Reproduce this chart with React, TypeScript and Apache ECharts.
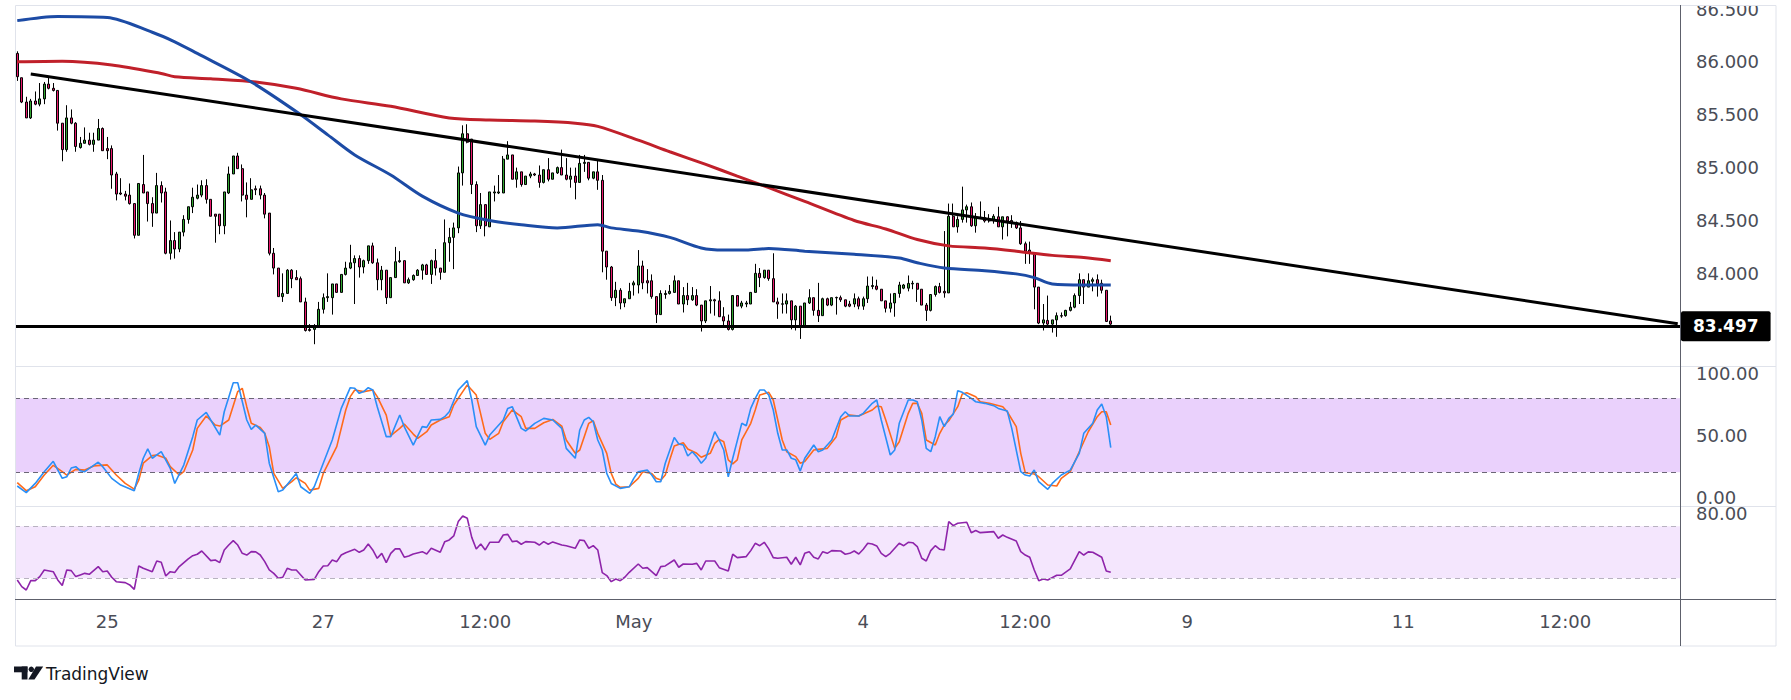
import React, { useEffect, useRef } from 'react';
import * as echarts from 'echarts';

// ---- Data (hourly candles, index 0 = first visible bar) ----
// [open, high, low, close]
const CANDLES_OHLC: [number, number, number, number][] = [
  [86.08, 86.10, 85.82, 85.86], [85.85, 85.85, 85.61, 85.62], [85.62, 85.67, 85.47, 85.47], [85.47, 85.65, 85.46, 85.63],
  [85.63, 85.72, 85.59, 85.60], [85.60, 85.80, 85.58, 85.65], [85.65, 85.81, 85.60, 85.79], [85.79, 85.85, 85.74, 85.75],
  [85.75, 85.80, 85.72, 85.73], [85.73, 85.73, 85.35, 85.42], [85.42, 85.42, 85.06, 85.17], [85.17, 85.59, 85.15, 85.47],
  [85.47, 85.55, 85.41, 85.42], [85.42, 85.43, 85.15, 85.20], [85.19, 85.29, 85.18, 85.23], [85.23, 85.38, 85.23, 85.26],
  [85.26, 85.33, 85.21, 85.22], [85.22, 85.33, 85.15, 85.26], [85.26, 85.46, 85.26, 85.37], [85.37, 85.38, 85.16, 85.16],
  [85.18, 85.29, 85.08, 85.16], [85.18, 85.21, 84.80, 84.93], [84.94, 84.96, 84.69, 84.75], [84.76, 84.90, 84.74, 84.75],
  [84.75, 84.78, 84.69, 84.73], [84.74, 84.85, 84.65, 84.66], [84.66, 84.66, 84.33, 84.36], [84.36, 84.85, 84.36, 84.85],
  [84.84, 85.12, 84.76, 84.76], [84.77, 84.77, 84.49, 84.66], [84.66, 84.72, 84.44, 84.57], [84.57, 84.95, 84.57, 84.83],
  [84.83, 84.87, 84.67, 84.76], [84.77, 84.81, 84.18, 84.19], [84.19, 84.50, 84.13, 84.31], [84.31, 84.39, 84.14, 84.23],
  [84.23, 84.39, 84.20, 84.39], [84.39, 84.55, 84.35, 84.51], [84.51, 84.63, 84.47, 84.63], [84.63, 84.81, 84.57, 84.72],
  [84.71, 84.84, 84.70, 84.74], [84.74, 84.88, 84.72, 84.83], [84.83, 84.89, 84.66, 84.70], [84.70, 84.70, 84.54, 84.54],
  [84.56, 84.56, 84.29, 84.54], [84.56, 84.56, 84.37, 84.45], [84.45, 84.77, 84.37, 84.77], [84.76, 85.01, 84.75, 84.94],
  [84.94, 85.11, 84.94, 85.11], [85.11, 85.14, 84.99, 84.99], [84.99, 85.03, 84.68, 84.74], [84.74, 84.86, 84.53, 84.70],
  [84.70, 84.90, 84.70, 84.79], [84.80, 84.83, 84.74, 84.79], [84.80, 84.83, 84.70, 84.74], [84.74, 84.76, 84.52, 84.56],
  [84.57, 84.57, 84.17, 84.19], [84.19, 84.24, 83.99, 84.05], [84.05, 84.05, 83.78, 83.78], [83.78, 84.00, 83.73, 83.81],
  [83.81, 84.04, 83.81, 84.03], [84.03, 84.04, 83.86, 83.95], [83.96, 84.03, 83.94, 83.94], [83.95, 83.97, 83.73, 83.73],
  [83.73, 83.77, 83.45, 83.46], [83.47, 83.52, 83.45, 83.46], [83.47, 83.52, 83.33, 83.49], [83.49, 83.73, 83.49, 83.66],
  [83.66, 83.81, 83.62, 83.77], [83.77, 84.00, 83.73, 83.78], [83.77, 83.90, 83.61, 83.90], [83.90, 83.90, 83.82, 83.82],
  [83.82, 83.99, 83.82, 83.99], [83.99, 84.11, 83.98, 84.05], [84.05, 84.27, 84.04, 84.10], [84.10, 84.17, 83.71, 84.14],
  [84.14, 84.17, 83.96, 84.06], [84.06, 84.13, 84.00, 84.12], [84.12, 84.26, 84.09, 84.26], [84.26, 84.29, 84.09, 84.10],
  [84.10, 84.14, 83.84, 83.94], [83.94, 84.07, 83.84, 84.03], [84.03, 84.03, 83.71, 83.77], [83.77, 83.96, 83.77, 83.96],
  [83.96, 84.25, 83.96, 84.11], [84.11, 84.21, 84.10, 84.12], [84.12, 84.12, 83.91, 83.91], [83.91, 83.96, 83.90, 83.94],
  [83.94, 83.99, 83.93, 83.98], [83.98, 84.04, 83.98, 84.03], [84.03, 84.09, 83.94, 84.08], [84.08, 84.09, 83.99, 83.99],
  [83.99, 84.13, 83.90, 84.12], [84.12, 84.23, 83.98, 84.05], [84.05, 84.05, 83.94, 84.01], [84.01, 84.51, 84.01, 84.29],
  [84.29, 84.43, 84.11, 84.34], [84.34, 84.48, 84.04, 84.43], [84.43, 85.01, 84.38, 84.95], [84.95, 85.40, 84.83, 85.32],
  [85.32, 85.41, 85.23, 85.24], [85.27, 85.27, 84.75, 84.84], [84.84, 84.87, 84.39, 84.45], [84.45, 84.76, 84.42, 84.65],
  [84.65, 84.65, 84.35, 84.45], [84.44, 84.77, 84.44, 84.77], [84.76, 84.83, 84.68, 84.77], [84.76, 84.93, 84.75, 84.77],
  [84.76, 85.11, 84.76, 85.08], [85.08, 85.25, 85.08, 85.12], [85.12, 85.12, 84.89, 84.89], [84.89, 85.00, 84.81, 84.96],
  [84.96, 84.96, 84.82, 84.84], [84.84, 84.92, 84.84, 84.92], [84.92, 84.96, 84.90, 84.94], [84.94, 84.95, 84.92, 84.93],
  [84.93, 85.02, 84.81, 84.86], [84.86, 84.98, 84.85, 84.98], [84.98, 85.09, 84.87, 84.89], [84.89, 84.95, 84.89, 84.95],
  [84.95, 85.01, 84.94, 85.00], [85.00, 85.17, 84.93, 84.93], [84.93, 85.09, 84.88, 84.89], [84.89, 85.00, 84.81, 84.92],
  [84.92, 85.00, 84.70, 84.86], [84.86, 85.12, 84.86, 85.04], [85.04, 85.12, 84.96, 85.05], [85.05, 85.05, 84.88, 84.90],
  [84.90, 84.96, 84.89, 84.96], [84.96, 85.07, 84.79, 84.88], [84.88, 84.93, 84.01, 84.21], [84.21, 84.21, 83.94, 84.06],
  [84.06, 84.07, 83.74, 83.77], [83.77, 83.92, 83.69, 83.84], [83.84, 83.86, 83.66, 83.72], [83.72, 83.76, 83.68, 83.76],
  [83.76, 83.91, 83.76, 83.83], [83.89, 83.93, 83.79, 83.91], [83.89, 84.22, 83.81, 84.07], [84.07, 84.12, 83.85, 83.91],
  [83.93, 84.04, 83.81, 83.91], [83.93, 83.99, 83.76, 83.78], [83.78, 83.78, 83.53, 83.61], [83.61, 83.84, 83.61, 83.81],
  [83.80, 83.84, 83.76, 83.81], [83.81, 83.89, 83.80, 83.83], [83.82, 83.98, 83.82, 83.93], [83.93, 83.93, 83.71, 83.71],
  [83.71, 83.87, 83.63, 83.79], [83.79, 83.91, 83.70, 83.75], [83.75, 83.87, 83.74, 83.79], [83.79, 83.85, 83.69, 83.70],
  [83.70, 83.70, 83.45, 83.55], [83.55, 83.74, 83.53, 83.74], [83.74, 83.88, 83.62, 83.75], [83.75, 83.76, 83.60, 83.74],
  [83.74, 83.83, 83.59, 83.59], [83.59, 83.68, 83.51, 83.55], [83.55, 83.61, 83.46, 83.47], [83.47, 83.79, 83.46, 83.79],
  [83.79, 83.79, 83.69, 83.69], [83.69, 83.74, 83.67, 83.72], [83.71, 83.74, 83.68, 83.72], [83.71, 83.82, 83.71, 83.82],
  [83.82, 84.09, 83.82, 84.00], [84.00, 84.05, 83.87, 83.96], [83.96, 84.03, 83.95, 84.03], [84.03, 84.03, 83.93, 83.95],
  [83.95, 84.19, 83.73, 83.73], [83.73, 83.77, 83.57, 83.71], [83.708, 83.81, 83.62, 83.712], [83.71, 83.81, 83.62, 83.74],
  [83.74, 83.74, 83.47, 83.56], [83.56, 83.70, 83.46, 83.69], [83.69, 83.69, 83.38, 83.50], [83.50, 83.72, 83.49, 83.72],
  [83.72, 83.85, 83.71, 83.77], [83.77, 83.77, 83.60, 83.65], [83.65, 83.91, 83.54, 83.60], [83.60, 83.77, 83.60, 83.76],
  [83.76, 83.77, 83.69, 83.70], [83.70, 83.77, 83.69, 83.77], [83.768, 83.78, 83.61, 83.772], [83.77, 83.79, 83.73, 83.75],
  [83.75, 83.75, 83.68, 83.69], [83.71, 83.74, 83.68, 83.69], [83.71, 83.81, 83.68, 83.76], [83.76, 83.78, 83.66, 83.69],
  [83.69, 83.78, 83.655, 83.76], [83.76, 83.97, 83.72, 83.88], [83.875, 83.97, 83.85, 83.885], [83.88, 83.94, 83.84, 83.85],
  [83.85, 83.85, 83.74, 83.74], [83.74, 83.74, 83.63, 83.67], [83.67, 83.81, 83.63, 83.72], [83.72, 83.81, 83.59, 83.81],
  [83.81, 83.92, 83.77, 83.89], [83.86, 83.90, 83.85, 83.89], [83.86, 83.98, 83.83, 83.905], [83.90, 83.93, 83.85, 83.906],
  [83.906, 83.906, 83.73, 83.85], [83.85, 83.85, 83.70, 83.70], [83.70, 83.72, 83.55, 83.65], [83.65, 83.80, 83.64, 83.80],
  [83.80, 83.885, 83.78, 83.875], [83.875, 83.91, 83.81, 83.82], [83.83, 84.40, 83.77, 83.815], [83.815, 84.66, 83.815, 84.54],
  [84.54, 84.66, 84.44, 84.44], [84.44, 84.54, 84.385, 84.51], [84.51, 84.82, 84.48, 84.60], [84.60, 84.65, 84.48, 84.63],
  [84.63, 84.67, 84.44, 84.45], [84.45, 84.57, 84.385, 84.53], [84.53, 84.68, 84.52, 84.527], [84.527, 84.59, 84.48, 84.495],
  [84.51, 84.56, 84.48, 84.495], [84.51, 84.56, 84.47, 84.54], [84.535, 84.63, 84.44, 84.44], [84.44, 84.535, 84.32, 84.535],
  [84.535, 84.54, 84.35, 84.495], [84.50, 84.55, 84.43, 84.48], [84.48, 84.49, 84.42, 84.43], [84.43, 84.495, 84.27, 84.28],
  [84.28, 84.30, 84.09, 84.21], [84.22, 84.30, 84.09, 84.19], [84.19, 84.19, 83.66, 83.87], [83.87, 83.87, 83.52, 83.53],
  [83.53, 83.71, 83.46, 83.56], [83.555, 83.79, 83.51, 83.52], [83.52, 83.56, 83.44, 83.56], [83.56, 83.63, 83.40, 83.60],
  [83.596, 83.63, 83.58, 83.60], [83.60, 83.655, 83.59, 83.65], [83.65, 83.73, 83.64, 83.68], [83.68, 83.81, 83.67, 83.79],
  [83.79, 84.00, 83.71, 83.94], [83.94, 83.94, 83.71, 83.87], [83.87, 84.00, 83.87, 83.93], [83.925, 83.96, 83.83, 83.94],
  [83.94, 83.99, 83.78, 83.90], [83.906, 83.94, 83.81, 83.84], [83.84, 83.84, 83.54, 83.545], [83.55, 83.60, 83.51, 83.52],
];

// Moving averages, sampled [barIndex, price]
const MA_BLUE: [number, number][] = [
  [0, 86.39], [9, 86.43], [20, 86.42], [30, 86.28], [35, 86.19], [40, 86.08], [52, 85.81], [63, 85.50], [69, 85.31],
  [75, 85.12], [83, 84.93], [90, 84.73], [98, 84.57], [105, 84.50], [112, 84.46], [120, 84.43], [129, 84.46], [132, 84.43],
  [138, 84.40], [145, 84.34], [152, 84.24], [157, 84.22], [162, 84.22], [167, 84.235], [175, 84.21], [186, 84.18],
  [196, 84.145], [200, 84.10], [206, 84.05], [215, 84.025], [222, 83.995], [226, 83.96], [230, 83.90], [237, 83.89], [243, 83.89],
];
const MA_RED: [number, number][] = [
  [0, 86.00], [10, 86.005], [21, 85.97], [32, 85.89], [35, 85.86], [43, 85.84], [53, 85.81], [62, 85.75], [72, 85.65],
  [83, 85.58], [96, 85.47], [105, 85.45], [115, 85.44], [124, 85.42], [129, 85.39], [138, 85.26], [145, 85.15], [153, 85.03],
  [160, 84.92], [167, 84.81], [175, 84.68], [186, 84.50], [193, 84.42], [200, 84.32], [207, 84.26], [215, 84.24],
  [222, 84.21], [230, 84.17], [237, 84.15], [243, 84.12],
];

// Drawn trend lines
const TRENDLINE: [number, number][] = [[3, 85.886], [369, 83.523]];
const SUPPORT_LEVEL = 83.497;

// Stochastic %K / %D, sampled [barIndex, value]
const STOCH_K: [number, number][] = [
  [0, 8.9], [2, 3.5], [4, 11.0], [6, 20.5], [8, 28.9], [10, 15.1], [11, 16.4], [12, 23.5], [13, 24.6], [14, 21.3], [15, 20.5],
  [16, 23.2], [18, 28.2], [19, 24.6], [21, 15.1], [23, 9.7], [26, 5.1], [27, 19.1], [28, 31.4], [29, 39.0], [30, 31.4],
  [32, 36.8], [34, 23.2], [35, 11.0], [37, 25.9], [39, 48.9], [40, 62.4], [42, 68.6], [43, 62.4], [45, 50.2], [46, 69.1],
  [48, 92.6], [49, 92.6], [51, 62.4], [52, 54.8], [53, 58.3], [55, 51.6], [56, 27.4], [58, 4.3], [59, 5.6], [62, 19.1],
  [63, 8.3], [65, 2.9], [66, 8.3], [68, 27.4], [70, 46.2], [72, 71.8], [74, 88.6], [75, 88.1], [76, 84.0], [77, 85.4],
  [78, 88.6], [79, 86.7], [80, 73.2], [82, 48.9], [83, 48.9], [85, 66.4], [86, 57.0], [88, 42.1], [90, 57.0], [91, 56.4],
  [92, 62.4], [94, 62.9], [95, 65.1], [96, 69.1], [98, 86.7], [100, 94.3], [101, 78.6], [102, 57.0], [104, 42.1], [105, 50.2],
  [108, 62.4], [109, 71.8], [110, 73.2], [112, 55.6], [113, 53.5], [115, 59.7], [117, 63.7], [119, 62.4], [121, 55.6],
  [122, 39.4], [124, 31.4], [125, 54.3], [126, 62.4], [127, 64.5], [128, 61.0], [129, 46.2], [130, 38.1], [131, 19.1],
  [132, 11.0], [134, 7.0], [136, 8.3], [137, 15.1], [138, 20.5], [140, 21.8], [141, 17.8], [142, 12.4], [143, 12.4],
  [144, 27.4], [146, 48.3], [147, 42.9], [148, 42.1], [149, 33.2], [150, 36.7], [151, 32.7], [152, 27.4], [153, 31.4],
  [155, 52.9], [156, 46.2], [157, 38.1], [158, 16.4], [159, 31.4], [161, 59.7], [162, 57.8], [163, 71.8], [164, 79.9],
  [165, 86.7], [166, 86.7], [167, 82.6], [168, 70.5], [169, 51.6], [170, 38.1], [171, 38.1], [172, 31.4], [173, 30.1],
  [174, 21.0], [175, 31.4], [177, 42.1], [178, 36.7], [179, 38.1], [181, 46.2], [183, 65.1], [184, 69.1], [185, 65.6],
  [187, 65.6], [188, 67.8], [190, 75.9], [191, 78.6], [192, 62.4], [194, 34.0], [195, 38.1], [196, 59.7], [198, 78.6],
  [199, 78.6], [200, 77.2], [201, 62.4], [202, 39.4], [203, 36.7], [204, 48.9], [205, 65.1], [206, 57.0], [207, 63.7],
  [208, 67.2], [209, 86.2], [210, 84.8], [212, 79.9], [213, 77.2], [215, 75.9], [217, 74.0], [218, 71.8], [220, 69.7],
  [221, 55.6], [223, 20.5], [224, 17.8], [225, 17.0], [226, 21.8], [227, 12.4], [229, 6.2], [230, 11.0], [232, 17.8],
  [234, 21.8], [236, 35.4], [237, 51.6], [239, 59.7], [240, 70.5], [241, 75.4], [242, 65.1], [243, 40.0],
];
const STOCH_D: [number, number][] = [
  [0, 11.6], [2, 5.1], [4, 8.3], [6, 17.8], [8, 25.7], [10, 20.5], [11, 17.8], [13, 22.4], [15, 21.8], [17, 25.2], [20, 26.0],
  [22, 17.8], [24, 11.0], [26, 6.4], [27, 13.7], [28, 27.4], [30, 33.5], [31, 34.0], [33, 31.4], [34, 24.6], [36, 17.8],
  [37, 20.5], [39, 38.1], [40, 55.6], [42, 65.6], [44, 58.3], [45, 57.5], [47, 62.4], [49, 85.4], [50, 88.1], [51, 73.2],
  [52, 59.7], [54, 56.4], [55, 51.6], [56, 40.8], [57, 19.1], [59, 7.0], [61, 12.4], [62, 15.6], [64, 11.0], [65, 5.6],
  [67, 7.0], [68, 19.1], [71, 40.8], [73, 70.5], [74, 81.3], [75, 86.7], [77, 85.4], [79, 86.7], [80, 81.3], [82, 66.4],
  [83, 49.7], [85, 55.6], [86, 59.1], [88, 51.0], [89, 47.5], [91, 52.9], [92, 58.3], [94, 62.4], [96, 65.1], [97, 74.5],
  [99, 85.4], [100, 90.8], [102, 82.6], [104, 51.6], [105, 46.7], [107, 51.6], [108, 61.0], [110, 70.5], [112, 65.1],
  [113, 55.6], [115, 55.6], [117, 60.2], [119, 62.9], [121, 57.5], [122, 46.2], [124, 35.4], [125, 38.1], [126, 48.9],
  [127, 59.7], [128, 61.8], [129, 51.6], [131, 35.4], [132, 19.1], [133, 10.5], [134, 7.8], [136, 8.3], [138, 15.1],
  [139, 20.5], [141, 19.1], [142, 15.1], [143, 13.7], [144, 17.8], [145, 30.1], [146, 41.3], [148, 44.0], [149, 38.9],
  [151, 35.4], [152, 32.2], [154, 35.4], [155, 43.5], [156, 46.7], [157, 44.8], [158, 30.1], [159, 26.8], [160, 30.1],
  [161, 46.2], [163, 59.7], [164, 70.5], [165, 82.6], [167, 84.8], [168, 78.6], [169, 62.4], [170, 46.2], [171, 36.7],
  [173, 32.7], [174, 27.4], [175, 28.7], [177, 38.1], [178, 38.6], [180, 39.4], [182, 48.9], [183, 62.4], [185, 66.4],
  [187, 65.6], [190, 70.5], [191, 73.7], [192, 73.2], [193, 62.4], [195, 39.4], [196, 44.8], [198, 67.8], [199, 75.9],
  [200, 75.9], [201, 67.8], [202, 46.2], [204, 42.1], [205, 51.6], [206, 58.3], [207, 61.8], [209, 73.2], [210, 83.4],
  [211, 84.5], [213, 81.3], [214, 77.2], [216, 75.9], [219, 73.2], [220, 69.1], [222, 57.0], [223, 35.4], [224, 19.7],
  [226, 18.6], [227, 16.4], [229, 9.7], [231, 8.9], [232, 15.1], [234, 20.5], [236, 36.7], [238, 52.9], [240, 65.1],
  [241, 69.1], [242, 69.1], [243, 58.3],
];
const STOCH_BAND: [number, number] = [20, 80];

// RSI, sampled [barIndex, value]
const RSI: [number, number][] = [
  [0, 28.7], [1, 23.6], [2, 21.0], [3, 28.2], [4, 28.2], [5, 31.3], [6, 36.4], [8, 35.1], [9, 28.7], [10, 24.4], [11, 36.4],
  [12, 35.9], [13, 31.3], [14, 32.6], [15, 33.8], [16, 33.1], [18, 39.0], [19, 35.1], [20, 35.6], [21, 30.8], [22, 27.4],
  [24, 26.7], [25, 24.9], [26, 21.5], [27, 39.5], [28, 37.7], [30, 35.1], [31, 43.3], [32, 42.3], [33, 31.8], [34, 35.1],
  [35, 34.4], [36, 39.0], [38, 44.9], [39, 47.4], [40, 48.5], [41, 51.0], [43, 43.6], [44, 44.1], [45, 42.1], [46, 51.8],
  [47, 55.6], [48, 59.0], [49, 55.6], [50, 49.2], [51, 47.9], [52, 50.5], [53, 50.3], [54, 47.9], [55, 42.8], [56, 36.4],
  [57, 33.8], [58, 30.0], [59, 30.8], [60, 37.7], [61, 36.4], [62, 36.4], [63, 32.6], [64, 28.7], [66, 29.2], [67, 35.1],
  [68, 39.5], [69, 39.7], [70, 44.1], [71, 42.8], [72, 47.9], [73, 49.7], [75, 52.3], [76, 50.0], [77, 51.8], [78, 56.4],
  [79, 51.8], [80, 45.4], [81, 49.2], [82, 42.1], [83, 49.2], [84, 52.6], [85, 52.6], [86, 46.2], [87, 47.2], [88, 48.7],
  [90, 50.5], [91, 48.7], [92, 53.1], [94, 50.0], [95, 58.2], [96, 59.5], [97, 62.6], [98, 73.6], [99, 77.9], [100, 76.2],
  [101, 61.5], [102, 52.6], [103, 56.4], [104, 51.8], [105, 57.7], [107, 57.7], [108, 63.3], [109, 63.8], [110, 58.2],
  [111, 58.7], [112, 56.2], [113, 58.2], [115, 57.7], [116, 55.6], [117, 58.2], [118, 56.2], [119, 58.0], [121, 55.6],
  [122, 55.1], [124, 53.1], [125, 59.5], [126, 59.0], [127, 53.1], [128, 55.1], [129, 51.8], [130, 34.4], [131, 32.1],
  [132, 27.4], [133, 29.5], [134, 28.2], [135, 30.8], [136, 34.6], [138, 41.0], [139, 37.7], [140, 38.2], [142, 32.1],
  [143, 39.0], [144, 39.5], [146, 44.1], [147, 38.5], [148, 41.0], [150, 40.8], [151, 41.5], [152, 36.4], [153, 43.3],
  [155, 43.3], [156, 38.2], [158, 35.6], [159, 48.5], [160, 45.9], [162, 46.7], [163, 51.3], [164, 56.9], [165, 55.1],
  [166, 57.7], [167, 52.6], [168, 45.9], [169, 45.4], [171, 46.2], [172, 40.8], [173, 46.2], [174, 40.3], [175, 49.2],
  [176, 50.5], [177, 46.2], [178, 44.9], [179, 50.5], [180, 49.2], [181, 51.3], [183, 51.0], [184, 48.5], [185, 49.2],
  [186, 51.0], [187, 48.7], [188, 52.3], [189, 56.9], [190, 56.4], [191, 54.9], [192, 49.2], [193, 46.7], [194, 49.2],
  [196, 56.9], [197, 55.1], [198, 57.7], [199, 57.4], [200, 54.4], [201, 45.4], [202, 43.3], [203, 51.3], [204, 55.1],
  [205, 52.3], [206, 51.8], [207, 73.6], [208, 70.5], [209, 72.3], [211, 73.1], [212, 65.1], [213, 66.7], [214, 65.1],
  [217, 65.9], [218, 60.8], [219, 63.3], [220, 61.5], [222, 58.7], [223, 50.5], [224, 47.9], [225, 46.2], [226, 36.4],
  [227, 28.2], [228, 29.5], [229, 28.7], [231, 32.3], [232, 32.3], [234, 37.2], [236, 50.5], [237, 47.9], [238, 50.3],
  [239, 50.0], [241, 46.2], [242, 35.6], [243, 34.6],
];
const RSI_BAND: [number, number] = [30, 70];

// Time axis: total bar slots (incl. future space) and labelled slots
const SLOT_COUNT = 370;
const TIME_TICK_IDX = [20, 68, 104, 137, 188, 224, 260, 308, 344];
const TIME_TICK_TEXT = ['25', '27', '12:00', 'May', '4', '12:00', '9', '11', '12:00'];

// Axis ranges
const PRICE_MIN = 83;
const PRICE_MAX = 86.5;
const PRICE_STEP = 0.5;

const FONT = '"DejaVu Sans", "Noto Sans", sans-serif';
const LABEL_COLOR = '#4a4d57';
const UP_COLOR = '#31a531';
const DOWN_COLOR = '#e8196c';

function buildOption(): any {
  const categories = Array.from({ length: SLOT_COUNT }, (_, i) => String(i));
  const tickMap = new Map<number, string>(TIME_TICK_IDX.map((i, k) => [i, TIME_TICK_TEXT[k]]));
  const gridLeft = 15;
  const gridWidth = 1665;

  const xAxis = [0, 1, 2].map((g) => ({
    type: 'category',
    gridIndex: g,
    data: categories,
    boundaryGap: true,
    axisLine: { show: false },
    axisTick: { show: false },
    splitLine: { show: false },
    axisPointer: { show: false },
    axisLabel:
      g === 2
        ? {
            show: true,
            interval: (index: number) => tickMap.has(index),
            formatter: (value: string) => tickMap.get(Number(value)) ?? '',
            margin: 21,
            fontSize: 18,
            fontFamily: FONT,
            color: LABEL_COLOR,
          }
        : { show: false },
  }));

  const baseY = {
    type: 'value',
    position: 'right',
    scale: true,
    axisLine: { show: false },
    axisTick: { show: false },
    splitLine: { show: false },
  };

  const yAxis = [
    {
      ...baseY,
      gridIndex: 0,
      min: PRICE_MIN,
      max: PRICE_MAX,
      interval: PRICE_STEP,
      axisLabel: {
        margin: 16,
        fontSize: 18,
        fontFamily: FONT,
        color: LABEL_COLOR,
        formatter: (v: number) => (v >= 83.9 ? v.toFixed(3) : ''),
      },
    },
    {
      ...baseY,
      gridIndex: 1,
      min: 0,
      max: 100,
      interval: 50,
      axisLabel: { margin: 16, fontSize: 18, fontFamily: FONT, color: LABEL_COLOR, formatter: (v: number) => v.toFixed(2) },
    },
    {
      ...baseY,
      gridIndex: 2,
      min: 20,
      max: 80,
      interval: 60,
      axisLabel: {
        margin: 16,
        fontSize: 18,
        fontFamily: FONT,
        color: LABEL_COLOR,
        formatter: (v: number) => (v === 80 ? '80.00' : ''),
      },
    },
  ];

  const series: any[] = [
    {
      type: 'candlestick',
      name: 'price',
      xAxisIndex: 0,
      yAxisIndex: 0,
      barWidth: 2.3,
      data: CANDLES_OHLC.map(([o, h, l, c]) => [o, c, l, h]),
      itemStyle: {
        color: UP_COLOR,
        color0: DOWN_COLOR,
        borderColor: '#000000',
        borderColor0: '#000000',
        borderColorDoji: '#000000',
        borderWidth: 1,
      },
      markLine: {
        silent: true,
        symbol: ['none', 'none'],
        lineStyle: { color: '#000000', width: 3, type: 'solid' },
        label: {
          show: true,
          position: 'end',
          distance: 1,
          formatter: SUPPORT_LEVEL.toFixed(3),
          backgroundColor: '#000000',
          color: '#ffffff',
          fontFamily: FONT,
          fontSize: 17,
          fontWeight: 'bold',
          padding: [7, 12, 6, 12],
          borderRadius: 2,
        },
        data: [{ yAxis: SUPPORT_LEVEL }],
      },
    },
    {
      type: 'line',
      name: 'ma200',
      xAxisIndex: 0,
      yAxisIndex: 0,
      data: MA_RED,
      smooth: 0.3,
      showSymbol: false,
      lineStyle: { color: '#c0202a', width: 3 },
    },
    {
      type: 'line',
      name: 'ma100',
      xAxisIndex: 0,
      yAxisIndex: 0,
      data: MA_BLUE,
      smooth: 0.3,
      showSymbol: false,
      lineStyle: { color: '#1c4ba5', width: 3 },
    },
    {
      type: 'line',
      name: 'trend',
      xAxisIndex: 0,
      yAxisIndex: 0,
      data: TRENDLINE,
      showSymbol: false,
      lineStyle: { color: '#000000', width: 3 },
    },
    {
      type: 'line',
      name: '%D',
      xAxisIndex: 1,
      yAxisIndex: 1,
      data: STOCH_D,
      showSymbol: false,
      lineStyle: { color: '#ff6a1a', width: 1.6 },
      markArea: {
        silent: true,
        itemStyle: { color: '#ead1fc' },
        data: [[{ yAxis: STOCH_BAND[0] }, { yAxis: STOCH_BAND[1] }]],
      },
      markLine: {
        silent: true,
        symbol: ['none', 'none'],
        label: { show: false },
        lineStyle: { color: '#6b6676', width: 1, type: [5, 4] },
        data: [{ yAxis: STOCH_BAND[1] }, { yAxis: STOCH_BAND[0] }],
      },
    },
    {
      type: 'line',
      name: '%K',
      xAxisIndex: 1,
      yAxisIndex: 1,
      data: STOCH_K,
      showSymbol: false,
      lineStyle: { color: '#2a8ff7', width: 1.6 },
    },
    {
      type: 'line',
      name: 'RSI',
      xAxisIndex: 2,
      yAxisIndex: 2,
      data: RSI,
      showSymbol: false,
      lineStyle: { color: '#8e24aa', width: 1.6 },
      markArea: {
        silent: true,
        itemStyle: { color: '#f4e6fd' },
        data: [[{ yAxis: RSI_BAND[0] }, { yAxis: RSI_BAND[1] }]],
      },
      markLine: {
        silent: true,
        symbol: ['none', 'none'],
        label: { show: false },
        lineStyle: { color: '#b8b2c0', width: 1, type: [5, 4] },
        data: [{ yAxis: RSI_BAND[1] }, { yAxis: RSI_BAND[0] }],
      },
    },
  ];

  const light = '#e0e3eb';
  const dark = '#5d606b';
  const graphic = [
    { type: 'rect', z: 100, silent: true, shape: { x: 0, y: 0, width: 1791, height: 5 }, style: { fill: '#ffffff' } },
    { type: 'rect', z: 100, silent: true, shape: { x: 1776.5, y: 0, width: 15, height: 700 }, style: { fill: '#ffffff' } },
    {
      type: 'rect', z: 101, silent: true,
      shape: { x: 15.5, y: 5.5, width: 1760.5, height: 640.5 },
      style: { fill: 'none', stroke: light, lineWidth: 1 },
    },
    { type: 'line', z: 101, silent: true, shape: { x1: 15, y1: 366.5, x2: 1776, y2: 366.5 }, style: { stroke: light, lineWidth: 1 } },
    { type: 'line', z: 101, silent: true, shape: { x1: 15, y1: 506.5, x2: 1776, y2: 506.5 }, style: { stroke: light, lineWidth: 1 } },
    { type: 'line', z: 102, silent: true, shape: { x1: 15, y1: 599.5, x2: 1776, y2: 599.5 }, style: { stroke: dark, lineWidth: 1 } },
    { type: 'line', z: 102, silent: true, shape: { x1: 1680.5, y1: 5, x2: 1680.5, y2: 646 }, style: { stroke: dark, lineWidth: 1 } },
    // TradingView logo mark
    { type: 'rect', z: 102, silent: true, shape: { x: 14, y: 666.5, width: 13.5, height: 5.8 }, style: { fill: '#131722' } },
    { type: 'rect', z: 102, silent: true, shape: { x: 21.7, y: 666.5, width: 5.8, height: 13 }, style: { fill: '#131722' } },
    { type: 'circle', z: 102, silent: true, shape: { cx: 31.3, cy: 669.3, r: 2.7 }, style: { fill: '#131722' } },
    {
      type: 'polygon', z: 102, silent: true,
      shape: { points: [[36, 666.5], [43.2, 666.5], [34.5, 679.5], [28.3, 679.5]] },
      style: { fill: '#131722' },
    },
    {
      type: 'text', z: 102, silent: true, x: 46, y: 673.5,
      style: { text: 'TradingView', fontSize: 17, fontFamily: FONT, fill: '#131722', verticalAlign: 'middle', textVerticalAlign: 'middle' },
    },
  ];

  return {
    animation: false,
    backgroundColor: '#ffffff',
    grid: [
      { left: gridLeft, top: 6.7, width: gridWidth, height: 372.4 },
      { left: gridLeft, top: 373.6, width: gridWidth, height: 123.4 },
      { left: gridLeft, top: 513.3, width: gridWidth, height: 78 },
    ],
    xAxis,
    yAxis,
    series,
    graphic,
  };
}

export default function App() {
  const ref = useRef<HTMLDivElement>(null);
  useEffect(() => {
    document.body.style.margin = '0';
    if (!ref.current) return;
    const chart = echarts.init(ref.current, undefined, { renderer: 'svg' });
    chart.setOption(buildOption());
    return () => chart.dispose();
  }, []);
  return <div ref={ref} style={{ width: 1791, height: 700 }} />;
}
